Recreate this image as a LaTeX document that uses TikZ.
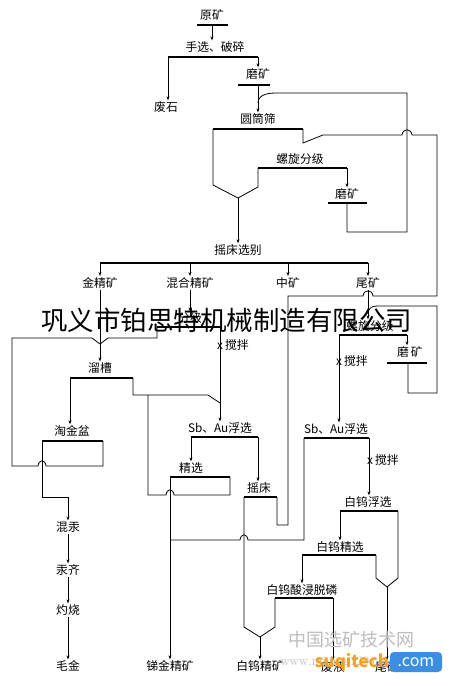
\documentclass[tikz,border=0pt]{standalone}
\usepackage{fontspec}
\newfontfamily\cjk{Noto Sans CJK SC}
\usetikzlibrary{arrows.meta, positioning}
\definecolor{wmgray}{HTML}{BDBDBD}
\definecolor{logoorange}{HTML}{F4A21E}
\definecolor{logoblue}{HTML}{3C8EE0}

\begin{document}
\begin{tikzpicture}[x=1pt, y=-1pt,
    lbl/.style={font=\cjk\fontsize{11.8}{12.5}\selectfont, inner sep=1pt},
    bar/.style={line width=2pt},
    ln/.style={line width=0.8pt},
    arr/.style={ln, -{Stealth[length=4pt, width=3pt]}}
  ]
  \useasboundingbox (0,0) rectangle (453,686);
  \fill[white] (0,0) rectangle (453,686);

  % crushing and grinding
  \node[lbl] (ore) at (212,15) {原矿};
  \node[lbl] (hand) at (215,47) {手选、破碎};
  \node[lbl] (waste) at (166,107) {废石};
  \node[lbl] (grind1) at (258,74) {磨矿};
  \node[lbl] (screen) at (258,119) {圆筒筛};
  \node[lbl] (spiral1) at (300,159) {螺旋分级};
  \node[lbl] (grind2) at (347,194) {磨矿};
  \node[lbl] (table) at (238,250) {摇床选别};

  \coordinate (b0l) at (197,25);  \coordinate (b0r) at (228,25);  \coordinate (b0m) at (212,25);
  \coordinate (b1l) at (168,57);  \coordinate (b1r) at (258,57);
  \coordinate (b2l) at (238,85);  \coordinate (b2r) at (270,85);  \coordinate (b2m) at (258,85);
  \coordinate (b3l) at (213,129); \coordinate (b3r) at (303,129);
  \coordinate (b5l) at (258,168); \coordinate (b5r) at (347,168);
  \coordinate (b4l) at (328,203); \coordinate (b4r) at (367,203); \coordinate (b4m) at (347,203);
  \coordinate (hop1) at (238,198);

  \draw[bar] (b0l) -- (b0r);
  \draw[bar] (b1l) -- (b1r);
  \draw[bar] (b2l) -- (b2r);
  \draw[bar] (b3l) -- (b3r);
  \draw[bar] (b5l) -- (b5r);
  \draw[bar] (b4l) -- (b4r);

  \draw[arr] (b0m) -- (b0m |- hand.north);
  \draw[arr] (b1l) -- (b1l |- waste.north);
  \draw[arr] (b1r) -- (b1r |- grind1.north);
  \draw[arr] (b2m) -- (b2m |- screen.north);
  \draw[ln] (b4m) -- (347,232) -| (407,93) -- (276,93)
    .. controls (265,93) and (258,96) .. (258,103);
  \draw[ln] (b3l) -- (213,185) -- (hop1);
  \draw[ln] (b5l) -- (258,187) -- (hop1);
  \draw[arr] (hop1) -- (hop1 |- table.north);
  \draw[arr] (b5r) -- (b5r |- grind2.north);

  % shaking table products
  \coordinate (b6l) at (100,263); \coordinate (b6r) at (368,263);
  \draw[bar] (b6l) -- (b6r);
  \node[lbl] (au) at (100,283) {金精矿};
  \node[lbl] (mix) at (190,283) {混合精矿};
  \node[lbl] (mid) at (288,283) {中矿};
  \node[lbl] (tail) at (368,283) {尾矿};
  \foreach \n/\x in {au/100, mix/190, mid/288, tail/368}
    \draw[arr] (\x,263) -- (\x,276);

  % screen oversize to middlings and the shaking table
  \coordinate (b8l) at (244,497); \coordinate (b8r) at (277,497);
  \draw[ln] (b3r) -- (303,143) -- (323,135) -- (402,135)
    .. controls (403,128) and (411,128) .. (412,135) -- (437,135) -- (437,296)
    -- (373,296) .. controls (372,289) and (364,289) .. (363,296)
    -- (288,296) -- (288,525) -- (277,525) -- (b8r);

  % gold line
  \node[lbl] (sluice) at (100,368) {溜槽};
  \node[lbl] (pan) at (72,431) {淘金盆};
  \node[lbl] (amal) at (68,527) {混汞};
  \node[lbl] (amalgam) at (68,570) {汞齐};
  \node[lbl] (roast) at (68,610) {灼烧};
  \node[lbl] (gold) at (68,666) {毛金};
  \coordinate (b10l) at (70,378); \coordinate (b10r) at (133,378);
  \coordinate (b7l) at (42,441);  \coordinate (b7r) at (103,441);
  \coordinate (jn1) at (100,344);
  \draw[bar] (b10l) -- (b10r);
  \draw[bar] (b7l) -- (b7r);
  \draw[arr] (au.south) -- (sluice.north);
  \draw[arr] (b10l) -- (b10l |- pan.north);
  \draw[ln] (b7r) -- (103,466) -- (46,466)
    .. controls (45,459) and (39,459) .. (38,466) -- (12,466) -- (12,338) -- (92,338) -- (jn1);
  \draw[arr] (b7l) -- (42,497) -| (amal.north);
  \draw[arr] (amal) -- (amalgam);
  \draw[arr] (amalgam) -- (roast);
  \draw[arr] (roast) -- (gold);

  % mixed concentrate: Sb, Au flotation
  \node[lbl] (cls) at (190,318) {分级};
  \node[lbl, anchor=west] (stir1) at (216,345) {x\,搅拌};
  \node[lbl] (sbau1) at (220,428) {Sb、Au浮选};
  \node[lbl] (clean) at (191,468) {精选};
  \node[lbl] (tab2) at (259,488) {摇床};
  \node[lbl] (sbconc) at (170,666) {锑金精矿};
  \coordinate (b9l) at (157,327);  \coordinate (b9r) at (220,327);
  \coordinate (b12l) at (191,437); \coordinate (b12r) at (258,437);
  \coordinate (b11l) at (170,477); \coordinate (b11r) at (230,477);
  \coordinate (j2) at (148,395);
  \draw[bar] (b9l) -- (b9r);
  \draw[bar] (b12l) -- (b12r);
  \draw[bar] (b11l) -- (b11r);
  \draw[bar] (b8l) -- (b8r);
  \draw[arr] (mix) -- (cls);
  \draw[ln] (b9l) -- (157,338) -- (108,338) -- (jn1);
  \draw[arr] (b9r) -- (b9r |- sbau1.north);
  \draw[ln] (b10r) -- (133,395) -- (208,395) -- (220,403);
  \draw[ln] (j2) -- (148,495) -- (166,495)
    .. controls (167,488) and (173,488) .. (174,495) -- (230,495) -- (b11r);
  \draw[arr] (b12l) -- (b12l |- clean.north);
  \draw[arr] (b12r) -- (b12r |- tab2.north);
  \draw[arr] (b11l) -- (b11l |- sbconc.north);

  % tailings: regrinding and flotation
  \node[lbl] (spiral2) at (370,326) {螺旋分级};
  \node[lbl] (grind3) at (410,352) {磨\,矿};
  \node[lbl, anchor=west] (stir2) at (335,361) {x\,搅拌};
  \node[lbl] (sbau2) at (336,429) {Sb、Au浮选};
  \node[lbl, anchor=west] (stir3) at (366,460) {x\,搅拌};
  \node[lbl] (wflot) at (368,502) {白钨浮选};
  \node[lbl] (wclean) at (340,547) {白钨精选};
  \node[lbl] (leach) at (302,590) {白钨酸浸脱磷};
  \node[lbl] (wconc) at (260,666) {白钨精矿};
  \node[lbl] (liq) at (333,667) {废液};
  \node[lbl] (tails) at (387,667) {尾矿};
  \coordinate (b15l) at (339,335); \coordinate (b15r) at (407,335);
  \coordinate (b16l) at (387,363); \coordinate (b16r) at (427,363); \coordinate (b16m) at (408,363);
  \coordinate (b13l) at (304,438); \coordinate (b13r) at (369,438);
  \coordinate (b17l) at (340,511); \coordinate (b17r) at (398,511);
  \coordinate (b18l) at (302,555); \coordinate (b18r) at (376,555);
  \coordinate (b14l) at (275,598); \coordinate (b14r) at (333,598);
  \coordinate (hop2) at (260,637);
  \coordinate (hop3) at (387,587);
  \draw[bar] (b15l) -- (b15r);
  \draw[bar] (b16l) -- (b16r);
  \draw[bar] (b13l) -- (b13r);
  \draw[bar] (b17l) -- (b17r);
  \draw[bar] (b18l) -- (b18r);
  \draw[bar] (b14l) -- (b14r);
  \draw[arr] (tail.south) -- (tail.south |- spiral2.north);
  \draw[ln] (b16m) -- (408,393) -- (437,393) -- (437,306) -- (377,306)
    .. controls (371,306) and (368,309) .. (368,314);
  \draw[arr] (b15l) -- (b15l |- sbau2.north);
  \draw[arr] (b15r) -- (b15r |- grind3.north);
  \draw[ln] (b13l) -- (304,540) -- (248,540)
    .. controls (247,533) and (241,533) .. (240,540) -- (170,540);
  \draw[arr] (b13r) -- (b13r |- wflot.north);
  \draw[arr] (b17l) -- (b17l |- wclean.north);
  \draw[arr] (b18l) -- (b18l |- leach.north);
  \draw[ln] (b18r) -- (376,578) -- (hop3);
  \draw[ln] (b17r) -- (398,578) -- (hop3);
  \draw[arr] (hop3) -- (hop3 |- tails.north);
  \draw[ln] (b8l) -- (244,627) -- (hop2);
  \draw[ln] (b14l) -- (275,627) -- (hop2);
  \draw[arr] (hop2) -- (hop2 |- wconc.north);
  \draw[arr] (b14r) -- (b14r |- liq.north);

  % watermarks
  \node[font=\cjk\fontsize{26.5}{28}\selectfont, inner sep=0pt] (wm) at (227,320)
    {巩义市铂思特机械制造有限公司};
  \node[font=\cjk\fontsize{18}{20}\selectfont, text=wmgray, inner sep=0pt] (site) at (351,640)
    {中国选矿技术网};
  \node[font=\fontsize{13}{14}\selectfont, text=wmgray, inner sep=0pt] (url) at (338,663)
    {www.mining120.com};
  \node[font=\cjk\bfseries\fontsize{17}{18}\selectfont, text=logoorange, inner sep=0pt] (suqi) at (352,662)
    {suqitech};
  \node[fill=logoblue, rounded corners=4pt, text=white, minimum width=52pt, minimum height=20pt,
        inner sep=0pt, font=\cjk\fontsize{16}{17}\selectfont] (com) at (416,662) {.com};
\end{tikzpicture}
\end{document}
